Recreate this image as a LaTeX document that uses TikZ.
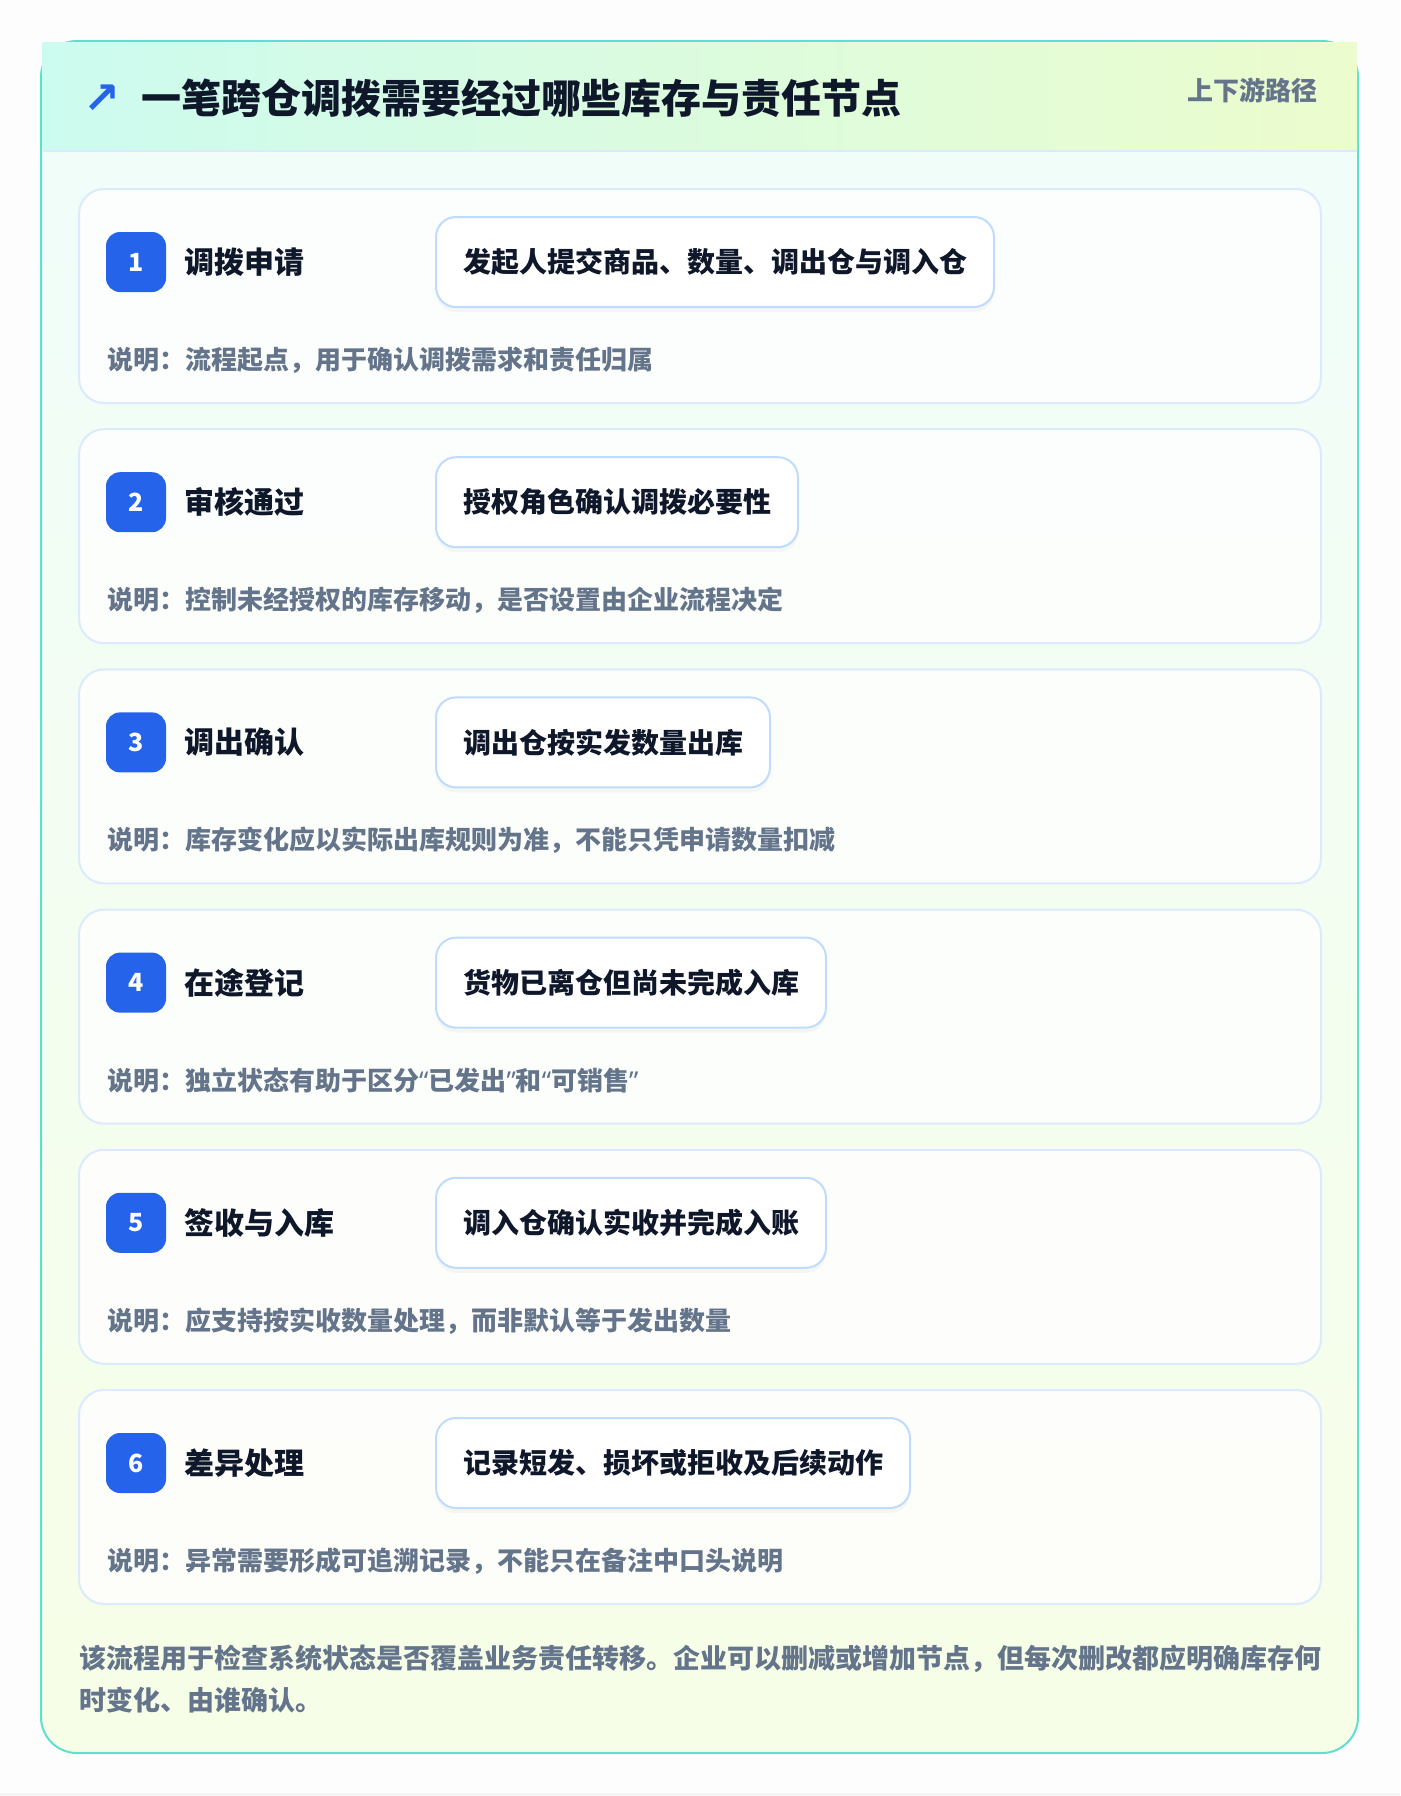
\documentclass[tikz,border=0pt]{standalone}
\usepackage{fontspec}
\setmainfont{Noto Sans CJK SC}
\newfontfamily\symfont{DejaVu Sans}
\newfontfamily\latinfont{Noto Sans}
\usetikzlibrary{shadows}
\definecolor{pagebg}{HTML}{FDFDFD}
\definecolor{cardborder}{HTML}{5EE0CF}
\definecolor{hdrL}{HTML}{CCFBEF}
\definecolor{hdrR}{HTML}{ECFCCD}
\definecolor{hdrline}{HTML}{DBEAFE}
\definecolor{bodytop}{HTML}{F0FDFA}
\definecolor{bodybot}{HTML}{F7FEE7}
\definecolor{ink}{HTML}{0F172A}
\definecolor{muted}{HTML}{64748B}
\definecolor{accent}{HTML}{2563EB}
\definecolor{stepline}{HTML}{DBEAFE}
\definecolor{pillline}{HTML}{BFDBFE}
\newcommand{\myopenq}{{\latinfont\bfseries “}}
\newcommand{\mycloseq}{{\latinfont\bfseries ”}}
\tikzset{
  stepcard/.style={draw=stepline, line width=2pt, fill=white, fill opacity=0.8, rounded corners=25pt},
  badge/.style={fill=accent, text=white, rounded corners=14pt, minimum size=60pt, inner sep=0pt,
    font=\fontsize{25}{28}\selectfont\bfseries},
  steptitle/.style={anchor=west, inner sep=0pt, text=ink, font=\fontsize{30}{36}\selectfont\bfseries},
  pill/.style={anchor=west, draw=pillline, line width=2pt, fill=white, rounded corners=20pt,
    minimum height=90pt, inner xsep=27pt, inner ysep=0pt, text=ink,
    font=\fontsize{28}{34}\selectfont\bfseries,
    drop shadow={opacity=0.06, shadow xshift=0pt, shadow yshift=-5pt}},
  desc/.style={anchor=west, inner sep=0pt, text=muted, font=\fontsize{26}{32}\selectfont\bfseries},
}
\begin{document}
\begin{tikzpicture}[x=1pt,y=-1pt]
\useasboundingbox (0,0) rectangle (1400,1796);
\fill[pagebg] (0,0) rectangle (1400,1796);
\fill[black!4] (0,1793) rectangle (1400,1796);
% soft shadow of the main card
\foreach \i in {1,...,40}{
  \fill[black, opacity=0.0012, rounded corners=36+\i]
    (41-\i,50-0.3*\i) rectangle (1358+\i,1765+0.9*\i);
}
% main card body
\path[shade, top color=bodytop, bottom color=bodybot, rounded corners=36pt]
  (41,41) rectangle (1358,1753);
\draw[cardborder, line width=2pt, rounded corners=36pt] (41,41) rectangle (1358,1753);
% header band
\shade[left color=hdrL, right color=hdrR] (42,42) rectangle (1357,151);
\draw[hdrline, line width=2pt] (42,151) -- (1357,151);
\node[text=accent, inner sep=0pt, font=\symfont\bfseries\fontsize{44}{48}\selectfont] (arrow) at (102,99) {↗};
\node[anchor=west, inner sep=0pt, text=ink, font=\fontsize{40}{46}\selectfont\bfseries] (title) at (141,98)
  {一笔跨仓调拨需要经过哪些库存与责任节点};
\node[anchor=east, inner sep=0pt, text=muted, font=\fontsize{26}{30}\selectfont\bfseries] (tag) at (1318,90)
  {上下游路径};
% steps
\foreach \n/\ttl/\pl/\ds in {
  1/调拨申请/发起人提交商品、数量、调出仓与调入仓/说明：流程起点，用于确认调拨需求和责任归属,
  2/审核通过/授权角色确认调拨必要性/说明：控制未经授权的库存移动，是否设置由企业流程决定,
  3/调出确认/调出仓按实发数量出库/说明：库存变化应以实际出库规则为准，不能只凭申请数量扣减,
  4/在途登记/货物已离仓但尚未完成入库/说明：独立状态有助于区分\myopenq 已发出\mycloseq 和\myopenq 可销售\mycloseq,
  5/签收与入库/调入仓确认实收并完成入账/说明：应支持按实收数量处理，而非默认等于发出数量,
  6/差异处理/记录短发、损坏或拒收及后续动作/说明：异常需要形成可追溯记录，不能只在备注中口头说明}{
  \pgfmathsetmacro{\top}{189+240.2*(\n-1)}
  \draw[stepcard] (79,\top) rectangle (1321,\top+214);
  \node[badge] (b\n) at (136,\top+73) {\n};
  \node[steptitle] (t\n) at (184,\top+73) {\ttl};
  \node[pill] (p\n) at (435,\top+73) {\pl};
  \node[desc] (d\n) at (107,\top+171) {\ds};
}
% footnote
\node[anchor=base west, inner sep=0pt, align=left, text=muted,
  font=\fontsize{27}{42}\selectfont\bfseries] (foot) at (79,1710)
  {该流程用于检查系统状态是否覆盖业务责任转移。企业可以删减或增加节点，但每次删改都应明确库存何\\时变化、由谁确认。};
\end{tikzpicture}
\end{document}
